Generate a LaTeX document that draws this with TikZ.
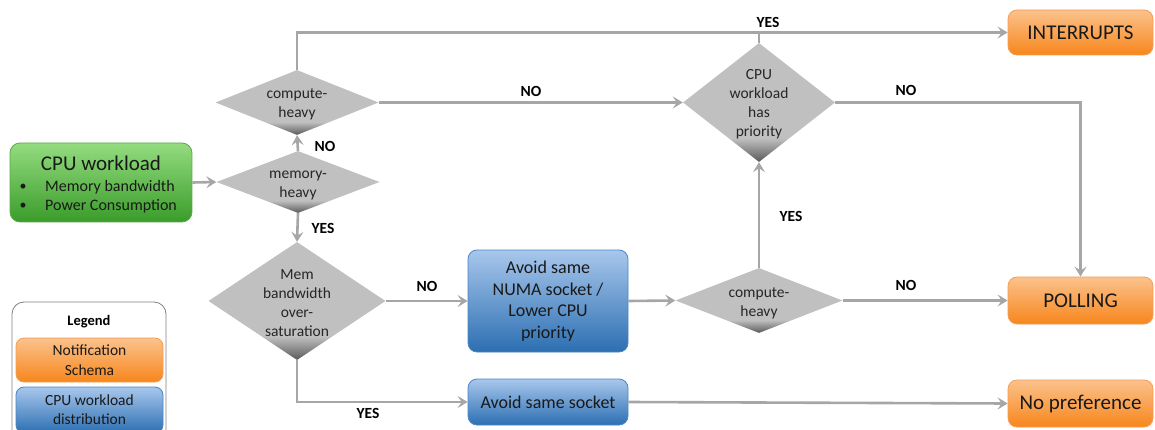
\documentclass[tikz,border=0pt]{standalone}
\usepackage{fontspec}
\setmainfont{Carlito}
\usetikzlibrary{shapes.geometric,arrows.meta}
\definecolor{dglight}{HTML}{C0C0C0}
\definecolor{dgdark}{HTML}{5A5A5A}
\definecolor{conn}{HTML}{A6A6A6}
\definecolor{gtop}{HTML}{94DC80}
\definecolor{gbot}{HTML}{3A9C2A}
\definecolor{gbord}{HTML}{5EA84A}
\definecolor{otop}{HTML}{FBC28C}
\definecolor{obot}{HTML}{F7861C}
\definecolor{obord}{HTML}{F59D56}
\definecolor{btop}{HTML}{A8C7EC}
\definecolor{bbot}{HTML}{2C6FB2}
\definecolor{bbord}{HTML}{4A86C5}
\pgfdeclareverticalshading{dshade}{100bp}{color(0bp)=(dgdark); color(25bp)=(dgdark); color(35bp)=(dglight); color(100bp)=(dglight)}
\tikzset{
  dia/.style={shape=diamond, inner sep=0pt, shading=dshade, draw=none},
  dtext/.style={align=center, text=black!85, font=\fontsize{15.5}{19}\selectfont},
  obox/.style={rectangle, rounded corners=9pt, top color=otop, bottom color=obot, draw=obord, line width=0.8pt, text=black!90, font=\fontsize{21}{25}\selectfont},
  bbox/.style={rectangle, rounded corners=9pt, top color=btop, bottom color=bbot, draw=bbord, line width=0.8pt, text=black!90, align=center, font=\fontsize{18}{21.5}\selectfont},
  gbox/.style={rectangle, rounded corners=10pt, top color=gtop, bottom color=gbot, draw=gbord, line width=0.8pt},
  conn/.style={draw=conn, line width=2.6pt},
  arr/.style={conn, -{Stealth[length=10pt,width=12pt,inset=4pt]}},
  lbl/.style={font=\bfseries\fontsize{15.5}{18}\selectfont, text=black}
}
\begin{document}
\begin{tikzpicture}[x=1pt,y=-1pt]
\useasboundingbox (0,0) rectangle (1155,430);
\clip (0,0) rectangle (1155,430);

% green start box
\node[gbox, minimum width=182pt, minimum height=79pt] (cpu) at (101,182.5) {};
\node[font=\fontsize{21}{25}\selectfont, text=black!90] (cput) at (101,163) {CPU workload};
\node[font=\fontsize{14}{17}\selectfont, text=black!90] (b1) at (23,187) {•};
\node[font=\fontsize{14}{17}\selectfont, text=black!90] (b2) at (23,206) {•};
\node[font=\fontsize{16}{19}\selectfont, text=black!90, anchor=west, inner sep=0pt] (m1) at (45,187) {Memory bandwidth};
\node[font=\fontsize{16}{19}\selectfont, text=black!90, anchor=west, inner sep=0pt] (m2) at (45,206) {Power Consumption};

% diamonds
\node[dia, minimum width=163pt, minimum height=62pt] (mem) at (298,182) {};
\node[dtext] (memt) at (298,185) {memory-\\heavy};
\node[dia, minimum width=163pt, minimum height=65pt] (comp1) at (297,102.5) {};
\node[dtext] (comp1t) at (297,104.5) {compute-\\heavy};
\node[dia, minimum width=152pt, minimum height=119pt] (prio) at (759,102.5) {};
\node[dtext] (priot) at (759,104.5) {CPU\\workload\\has\\priority};
\node[dia, minimum width=177pt, minimum height=118pt] (bw) at (297,301) {};
\node[dtext] (bwt) at (297,303) {Mem\\bandwidth\\over-\\saturation};
\node[dia, minimum width=167pt, minimum height=65pt] (comp2) at (759,300.5) {};
\node[dtext] (comp2t) at (759,303.5) {compute-\\heavy};

% blue boxes
\node[bbox, minimum width=160pt, minimum height=102pt] (numa) at (548,301) {Avoid same\\NUMA socket /\\Lower CPU\\priority};
\node[bbox, minimum width=160pt, minimum height=46pt] (sock) at (548,402) {Avoid same socket};

% orange boxes
\node[obox, minimum width=145pt, minimum height=45pt] (intr) at (1080.5,32.5) {INTERRUPTS};
\node[obox, minimum width=145pt, minimum height=47pt] (poll) at (1080.5,300.5) {POLLING};
\node[obox, minimum width=145pt, minimum height=47pt] (nopref) at (1080.5,403.5) {No preference};

% legend
\node[rectangle, rounded corners=12pt, draw=black!50, fill=white, line width=0.8pt, minimum width=154pt, minimum height=150pt] (leg) at (89,377) {};
\node[font=\bfseries\fontsize{14.5}{17}\selectfont] (legt) at (89,322) {Legend};
\node[obox, align=center, minimum width=147pt, minimum height=44pt, rounded corners=8pt, font=\fontsize{15.5}{20}\selectfont] (lo) at (89.5,360) {Notification\\Schema};
\node[bbox, minimum width=147pt, minimum height=46pt, rounded corners=8pt, font=\fontsize{15.5}{19}\selectfont] (lb) at (89.5,410) {CPU workload\\distribution};

% connectors
\draw[arr] (cpu.east) -- (mem.west);
\draw[arr] (mem.north) -- (comp1.south);
\node[lbl] at (325,146) {NO};
\draw[arr] (comp1.north) |- (intr.west);
\draw[conn] (prio.north) -- (prio.north |- intr.west);
\node[lbl] at (768,22) {YES};
\draw[arr] (comp1.east) -- (prio.west);
\node[lbl] at (531,91) {NO};
\draw[arr] (prio.east) -| (poll.north);
\node[lbl] at (906,90) {NO};
\draw[arr] (mem.south) -- (bw.north);
\node[lbl] at (323,228) {YES};
\draw[arr] (bw.east) -- (numa.west);
\node[lbl] at (427,286) {NO};
\draw[arr] (numa.east) -- (comp2.west);
\draw[arr] (comp2.north) -- (prio.south);
\node[lbl] at (791,216) {YES};
\draw[arr] (comp2.east) -- (poll.west);
\node[lbl] at (906,285) {NO};
\draw[arr] (bw.south) |- (sock.west);
\node[lbl] at (368,413) {YES};
\draw[arr] (sock.east) -- (nopref.west);
\end{tikzpicture}
\end{document}
